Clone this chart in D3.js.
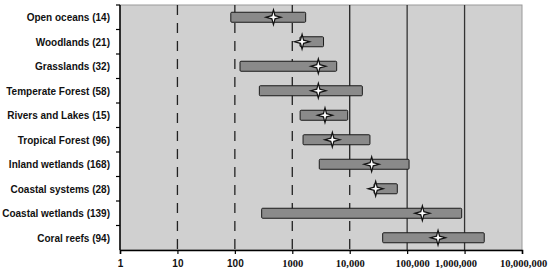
<!DOCTYPE html>
<html>
<head>
<meta charset="utf-8">
<script src="https://cdn.jsdelivr.net/npm/d3@7"></script>
<style>
  body { margin: 0; background: #fff; }
  svg { display: block; }
</style>
</head>
<body>
<svg id="chart" width="550" height="272"></svg>
<script>
// habitat categories (number of estimates in brackets)
var categories = ["Open oceans (14)", "Woodlands (21)", "Grasslands (32)", "Temperate Forest (58)",
  "Rivers and Lakes (15)", "Tropical Forest (96)", "Inland wetlands (168)", "Coastal systems (28)",
  "Coastal wetlands (139)", "Coral reefs (94)"];
// range low / high and the median marker (log axis values)
var lows    = [85, 1360, 123, 267, 1370, 1540, 2950, 26500, 293, 37500];
var highs   = [1710, 3500, 5930, 16600, 9230, 22500, 108000, 67400, 891000, 2200000];
var medians = [470, 1480, 2840, 2840, 3710, 4980, 24100, 28300, 184000, 345000];
var tickValues = [1, 10, 100, 1000, 10000, 100000, 1000000, 10000000];
var tickLabels = ["1", "10", "100", "1000", "10,000", "100,000", "1,000,000", "10,000,000"];

var svg = d3.select("#chart");
var margin = { left: 120, right: 28, top: 5, bottom: 22 };
var width = 550 - margin.left - margin.right;
var height = 272 - margin.top - margin.bottom;

var x = d3.scaleLog().domain([1, 10000000]).range([margin.left, margin.left + width]);
var y = d3.scaleBand().domain(categories).range([margin.top, margin.top + height]);

// plot background
svg.append("rect")
  .attr("x", margin.left).attr("y", margin.top)
  .attr("width", width).attr("height", height)
  .attr("fill", "#d0d0d0")
  .attr("stroke", "#9a9a9a");

// vertical grid lines, dashed on the low side
var grid = svg.append("g");
tickValues.slice(1, -1).forEach(function (v) {
  var gx = x(v);
  if (v <= 1000) {
    grid.append("line").attr("x1", gx).attr("x2", gx)
      .attr("y1", margin.top).attr("y2", margin.top + height)
      .attr("stroke", "#222").attr("stroke-width", 1.3)
      .attr("stroke-dasharray", "10,8");
  } else if (v == 10000) {
    var split = y(categories[6]) - 3;
    grid.append("line").attr("x1", gx).attr("x2", gx)
      .attr("y1", margin.top).attr("y2", split)
      .attr("stroke", "#222").attr("stroke-width", 1.3);
    grid.append("line").attr("x1", gx).attr("x2", gx)
      .attr("y1", split).attr("y2", margin.top + height)
      .attr("stroke", "#222").attr("stroke-width", 1.3)
      .attr("stroke-dasharray", "10,8");
  } else {
    grid.append("line").attr("x1", gx).attr("x2", gx)
      .attr("y1", margin.top).attr("y2", margin.top + height)
      .attr("stroke", "#333").attr("stroke-width", 1.3);
  }
});

// range bars
var barH = 10;
svg.append("g").selectAll("rect")
  .data(categories)
  .enter().append("rect")
  .attr("x", function (d, i) { return x(lows[i]); })
  .attr("y", function (d) { return y(d) + y.bandwidth() / 2 - barH / 2; })
  .attr("width", function (d, i) { return x(highs[i]) - x(lows[i]); })
  .attr("height", barH)
  .attr("rx", 1)
  .attr("fill", "#8a8a8a")
  .attr("stroke", "#1a1a1a")
  .attr("stroke-width", 1);

// four point star for the median
function star(r, ri) {
  var p = [];
  for (var k = 0; k < 8; k++) {
    var a = k * Math.PI / 4 - Math.PI / 2;
    var rr = k % 2 == 0 ? r : ri;
    p.push([Math.cos(a) * rr, Math.sin(a) * rr]);
  }
  return "M" + p.join("L") + "Z";
}
svg.append("g").selectAll("path")
  .data(categories)
  .enter().append("path")
  .attr("transform", function (d, i) {
    return "translate(" + x(medians[i]) + "," + (y(d) + y.bandwidth() / 2) + ")";
  })
  .attr("d", star(7.5, 2.2))
  .attr("fill", "#fff")
  .attr("stroke", "#111")
  .attr("stroke-width", 1.2);

// left axis
var yAxis = svg.append("g").attr("transform", "translate(" + margin.left + ",0)");
yAxis.append("line").attr("x1", 0).attr("x2", 0)
  .attr("y1", margin.top).attr("y2", margin.top + height)
  .attr("stroke", "#000").attr("stroke-width", 1.5);
categories.forEach(function (c) {
  yAxis.append("line").attr("x1", -4).attr("x2", 0)
    .attr("y1", y(c)).attr("y2", y(c))
    .attr("stroke", "#000").attr("stroke-width", 1.2);
});
// labels are squeezed horizontally so the longest one fits the margin
var labels = yAxis.append("g");
labels.selectAll("text")
  .data(categories)
  .enter().append("text")
  .attr("x", 0)
  .attr("y", function (d) { return y(d) + y.bandwidth() / 2; })
  .attr("dy", "0.36em")
  .attr("text-anchor", "end")
  .attr("font-family", "Liberation Sans, Arial, sans-serif")
  .attr("font-weight", "bold")
  .attr("font-size", 11.5)
  .attr("fill", "#111")
  .text(function (d) { return d; });
var longest = d3.max(labels.selectAll("text").nodes(), function (n) { return n.getComputedTextLength(); });
var sx = Math.min(1, 108 / longest);
labels.attr("transform", "translate(-10,0) scale(" + sx + ",1)");

// bottom axis
var xAxis = d3.axisBottom(x).tickValues(tickValues).tickSize(4)
  .tickFormat(function (d, i) { return tickLabels[i]; });
var gx = svg.append("g")
  .attr("transform", "translate(0," + (margin.top + height) + ")")
  .call(xAxis);
gx.select(".domain").attr("stroke", "#000").attr("stroke-width", 1.5);
gx.selectAll(".tick line").attr("stroke", "#000").attr("stroke-width", 1.2);
var nudge = { 100000: 5, 1000000: -9, 10000000: 1 };
gx.selectAll(".tick text")
  .attr("y", 10)
  .attr("dx", function (d) { return nudge[d] || 0; })
  .attr("fill", "#111")
  .attr("font-weight", "bold")
  .attr("font-size", function (d) { return d < 1000 ? 10 : 10.5; })
  .attr("font-family", function (d) {
    return d < 1000 ? "Liberation Sans, Arial, sans-serif" : "Liberation Serif, Times New Roman, serif";
  });
</script>
</body>
</html>
